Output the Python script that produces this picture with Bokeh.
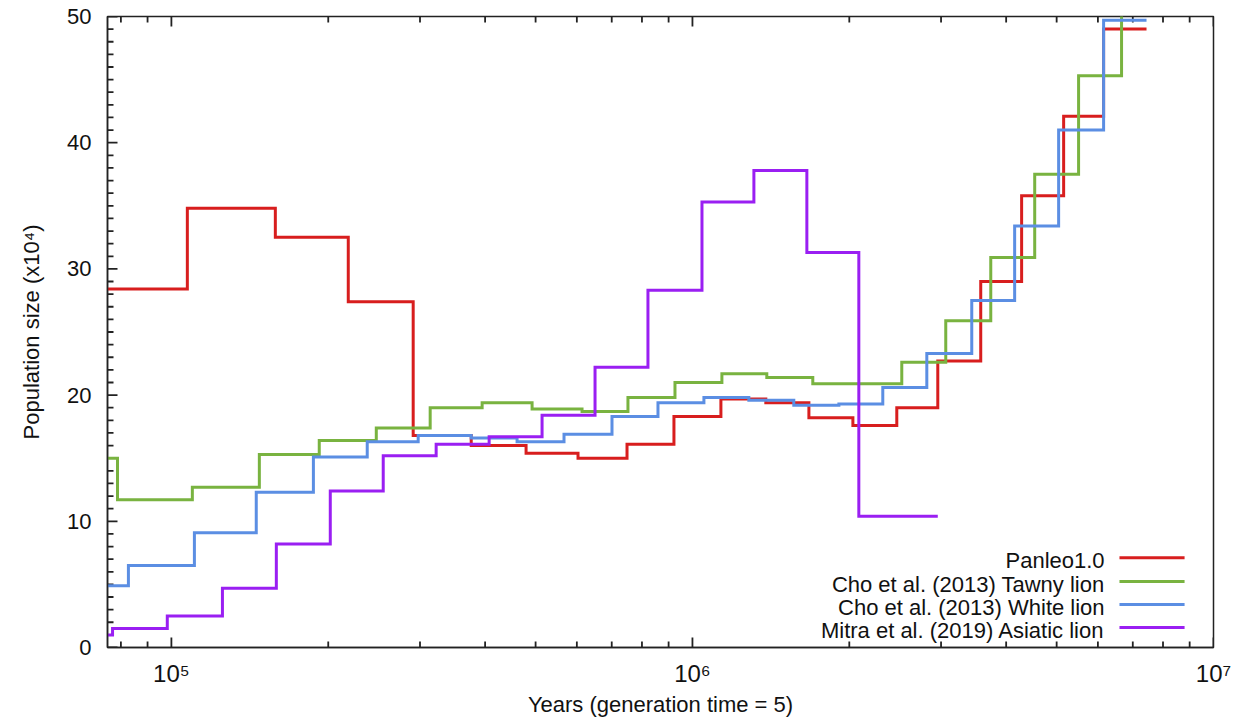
import math
from bokeh.plotting import figure
from bokeh.models import (Range1d, FixedTicker, Label, Arrow)
from bokeh.embed import file_html
from bokeh.resources import INLINE

# ---------------- data (years, population size x10^4) ----------------
panleo_t = [7.54e4, 1.073e5, 1.583e5, 2.185e5, 2.911e5, 3.762e5, 4.794e5, 6.031e5,
            7.489e5, 9.215e5, 1.134e6, 1.383e6, 1.673e6, 2.032e6, 2.467e6, 2.957e6,
            3.575e6, 4.283e6, 5.157e6, 6.153e6, 7.438e6]
panleo_n = [28.4, 34.8, 32.5, 27.4, 16.8, 16.0, 15.4, 15.0, 16.1, 18.3, 19.7, 19.4,
            18.2, 17.6, 19.0, 22.7, 29.0, 35.8, 42.1, 49.0]

tawny_t = [7.54e4, 7.88e4, 1.097e5, 1.475e5, 1.922e5, 2.473e5, 3.138e5, 3.948e5,
           4.923e5, 6.139e5, 7.52e5, 9.257e5, 1.139e6, 1.389e6, 1.702e6, 2.522e6,
           3.063e6, 3.737e6, 4.538e6, 5.509e6, 6.661e6, 8.0e6]
tawny_n = [15.0, 11.7, 12.7, 15.3, 16.4, 17.4, 19.0, 19.4, 18.9, 18.7, 19.8, 21.0,
           21.7, 21.4, 20.9, 22.6, 25.9, 30.9, 37.5, 45.3, 53.0]

white_t = [7.54e4, 8.27e4, 1.107e5, 1.455e5, 1.873e5, 2.376e5, 2.976e5, 3.762e5,
           4.607e5, 5.669e5, 7.008e5, 8.587e5, 1.052e6, 1.283e6, 1.565e6, 1.910e6,
           2.319e6, 2.817e6, 3.436e6, 4.153e6, 5.044e6, 6.153e6, 7.438e6]
white_n = [4.9, 6.5, 9.1, 12.3, 15.1, 16.3, 16.8, 16.6, 16.3, 16.9, 18.3, 19.4,
           19.8, 19.6, 19.2, 19.3, 20.6, 23.3, 27.5, 33.4, 41.0, 49.7]

asiatic_t = [7.54e4, 7.71e4, 9.82e4, 1.253e5, 1.590e5, 2.018e5, 2.550e5, 3.222e5,
             4.072e5, 5.145e5, 6.502e5, 8.215e5, 1.043e6, 1.312e6, 1.658e6, 2.086e6,
             2.957e6]
asiatic_n = [1.0, 1.5, 2.5, 4.7, 8.2, 12.4, 15.2, 16.1, 16.7, 18.4, 22.2, 28.3,
             35.3, 37.8, 31.3, 10.4]

series_names = ["Panleo1.0", "Cho et al. (2013) Tawny lion",
                "Cho et al. (2013) White lion", "Mitra et al. (2019) Asiatic lion"]
series_colors = ["#d81e1e", "#79b340", "#5b8ee3", "#9a1ff2"]

x_major = [1e5, 1e6, 1e7]
x_labels = {1e5: "10\u2075", 1e6: "10\u2076", 1e7: "10\u2077"}
x_minor = [m * 10 ** k for k in (4, 5, 6) for m in range(2, 10) if m * 10 ** k > 7.54e4]
y_major = [0, 10, 20, 30, 40, 50]
y_minor = [v for v in range(0, 51) if v % 10 != 0]

X0, X1 = 7.54e4, 1e7
Y0, Y1 = 0, 50
FONT = "Liberation Sans"
INK = "#222222"


def steps(t, n):
    xs, ys = [], []
    for i, v in enumerate(n):
        xs += [t[i], t[i + 1]]
        ys += [v, v]
    return xs, ys


p = figure(width=1234, height=719, x_axis_type="log",
           x_range=Range1d(X0, X1), y_range=Range1d(Y0, Y1),
           output_backend="svg", toolbar_location=None,
           min_border_left=107, min_border_right=21, min_border_top=16,
           min_border_bottom=71)
p.grid.visible = False
p.outline_line_color = INK
p.outline_line_width = 1.5
p.background_fill_color = "white"
p.border_fill_color = "white"

xa = p.xaxis[0]
xa.ticker = FixedTicker(ticks=x_major, minor_ticks=x_minor)
xa.major_label_overrides = x_labels
xa.axis_label = "Years (generation time = 5)"
ya = p.yaxis[0]
ya.ticker = FixedTicker(ticks=y_major, minor_ticks=y_minor)
ya.axis_label = "Population size (x10\u2074)"

for ax in (xa, ya):
    ax.axis_line_color = INK
    ax.axis_line_width = 1.5
    ax.major_tick_in = 0
    ax.major_tick_out = 0
    ax.minor_tick_in = 0
    ax.minor_tick_out = 0
    ax.major_label_text_font = FONT
    ax.major_label_text_font_size = "22px"
    ax.major_label_text_color = "#111111"
    ax.axis_label_text_font = FONT
    ax.axis_label_text_font_size = "22px"
    ax.axis_label_text_font_style = "normal"
    ax.axis_label_text_color = "#111111"

ya.major_label_standoff = 16
ya.axis_label_standoff = 20
xa.major_label_standoff = 12
xa.axis_label_standoff = 2
xa.major_label_text_font_size = "24px"

# inward tick marks (gnuplot style) on bottom, top and left edges
TICK_MAJ, TICK_MIN = 10, 6
tick_kw = dict(line_color=INK, length_units="screen", line_width=1.8)
p.ray(x=x_major, y=[Y0] * len(x_major), length=TICK_MAJ, angle=math.pi / 2, **tick_kw)
p.ray(x=x_minor, y=[Y0] * len(x_minor), length=TICK_MIN, angle=math.pi / 2, **tick_kw)
p.ray(x=x_major, y=[Y1] * len(x_major), length=TICK_MAJ, angle=-math.pi / 2, **tick_kw)
p.ray(x=x_minor, y=[Y1] * len(x_minor), length=TICK_MIN, angle=-math.pi / 2, **tick_kw)
p.ray(x=[X0] * len(y_major), y=y_major, length=TICK_MAJ, angle=0, **tick_kw)
p.ray(x=[X0] * len(y_minor), y=y_minor, length=TICK_MIN, angle=0, **tick_kw)

all_t = [panleo_t, tawny_t, white_t, asiatic_t]
all_n = [panleo_n, tawny_n, white_n, asiatic_n]
for t, n, c in zip(all_t, all_n, series_colors):
    xs, ys = steps(t, n)
    p.line(xs, ys, line_color=c, line_width=3, line_join="miter")

# legend (gnuplot style: text then line sample), bottom-right inside frame
leg_text_x = 6.18e6
leg_line_x0 = 6.60e6
leg_line_x1 = 8.80e6
leg_rows = [7.12, 5.22, 3.40, 1.58]
for name, c, yy in zip(series_names, series_colors, leg_rows):
    p.add_layout(Label(x=leg_text_x, y=yy - 0.2, text=name, text_align="right",
                       text_baseline="middle", text_font=FONT,
                       text_font_size="22px", text_color="#111111"))
    p.add_layout(Arrow(x_start=leg_line_x0, y_start=yy, x_end=leg_line_x1,
                       y_end=yy, end=None, line_color=c, line_width=3))

open("out.html", "w").write(file_html(p, INLINE))
